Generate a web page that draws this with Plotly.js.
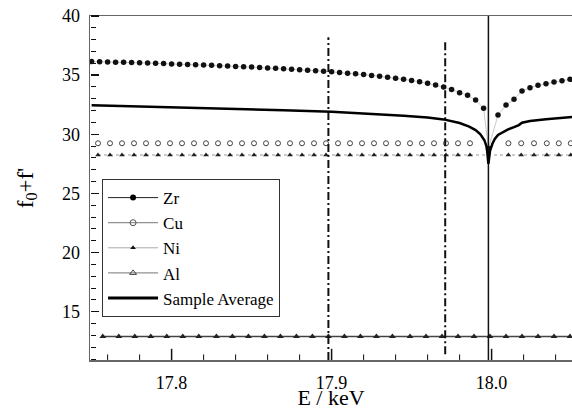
<!DOCTYPE html>
<html><head><meta charset="utf-8">
<script src="https://cdn.plot.ly/plotly-3.0.1.min.js"></script>
<style>html,body{margin:0;padding:0;background:#fff}</style>
</head><body><div id="chart" style="width:572px;height:410px"></div>
<script>
// ---- data (energies in keV, values of f0+f') ----
const zrX = [17.750,17.755,17.760,17.765,17.770,17.775,17.780,17.785,17.790,17.795,
             17.800,17.805,17.810,17.815,17.820,17.825,17.830,17.835,17.840,17.845,
             17.850,17.855,17.860,17.865,17.870,17.875,17.880,17.885,17.890,17.895,
             17.900,17.905,17.910,17.915,17.920,17.925,17.930,17.935,17.940,17.945,
             17.950,17.955,17.960,17.965,17.970,17.975,17.980,17.985,17.990,17.995,
             17.998,18.004,18.009,18.014,18.019,18.024,18.029,18.034,18.039,18.044,18.049];
const zrY = [36.15,36.14,36.12,36.10,36.08,36.06,36.04,36.02,36.00,35.98,
             35.95,35.93,35.91,35.88,35.86,35.83,35.80,35.77,35.74,35.71,
             35.68,35.65,35.61,35.58,35.54,35.50,35.46,35.42,35.38,35.33,
             35.28,35.23,35.17,35.11,35.05,34.98,34.91,34.83,34.74,34.65,
             34.55,34.44,34.31,34.16,33.99,33.78,33.52,33.30,32.90,32.20,
             28.80,31.63,32.48,32.96,33.66,33.94,34.14,34.28,34.42,34.53,34.65];

const cuniX = [17.754,17.7615,17.769,17.7765,17.784,17.7915,17.799,17.8065,17.814,17.8215,
               17.829,17.8365,17.844,17.8515,17.859,17.8665,17.874,17.8815,17.889,17.8965,
               17.904,17.9115,17.919,17.9265,17.934,17.9415,17.949,17.9565,17.964,17.9715,
               17.979,17.9865,18.0105,18.0185,18.0265,18.0345,18.042,18.0495];
const cuY = [29.24,29.24,29.24,29.24,29.24,29.24,29.24,29.24,29.24,29.24,
             29.24,29.24,29.24,29.24,29.24,29.24,29.24,29.24,29.24,29.24,
             29.24,29.24,29.24,29.24,29.24,29.24,29.24,29.24,29.24,29.24,
             29.24,29.24,29.24,29.24,29.24,29.24,29.24,29.24];
const niY = [28.25,28.25,28.25,28.25,28.25,28.25,28.25,28.25,28.25,28.25,
             28.25,28.25,28.25,28.25,28.25,28.25,28.25,28.25,28.25,28.25,
             28.25,28.25,28.25,28.25,28.25,28.25,28.25,28.25,28.25,28.25,
             28.25,28.25,28.25,28.25,28.25,28.25,28.25,28.25];

const alX = [17.757,17.767,17.777,17.787,17.797,17.807,17.817,17.828,17.838,17.848,
             17.858,17.868,17.878,17.888,17.898,17.908,17.918,17.928,17.938,17.949,
             17.959,17.969,17.979,17.989,17.999,18.009,18.019,18.029,18.039,18.049];
const alY = [12.9,12.9,12.9,12.9,12.9,12.9,12.9,12.9,12.9,12.9,
             12.9,12.9,12.9,12.9,12.9,12.9,12.9,12.9,12.9,12.9,
             12.9,12.9,12.9,12.9,12.9,12.9,12.9,12.9,12.9,12.9];

const avgX = [17.750,17.780,17.810,17.840,17.870,17.900,17.925,17.945,17.960,17.970,
              17.980,17.986,17.990,17.993,17.9955,17.997,17.998,17.999,18.0005,18.002,
              18.004,18.007,18.010,18.014,18.017,18.019,18.024,18.034,18.044,18.055];
const avgY = [32.45,32.36,32.26,32.15,32.03,31.90,31.74,31.57,31.41,31.26,
              30.95,30.65,30.35,30.00,29.50,28.90,27.50,28.60,29.20,29.60,
              29.95,30.20,30.40,30.60,30.78,30.98,31.13,31.28,31.42,31.52];

// vertical marker lines
const edgeX = [17.998,17.998], edgeY = [10.92,40];
const mark1X = [17.898,17.898], mark1Y = [10.92,38.2];
const mark2X = [17.971,17.971], mark2Y = [11.4,38.0];

const names = ['Zr','Cu','Ni','Al','Sample Average'];

// x-axis tick positions (major / minor)
const xMajorTicks = [17.8,17.9,18.0];
const xMinorTicks = [17.76,17.78,17.82,17.84,17.86,17.88,17.92,17.94,17.96,17.98,18.02,18.04];

const xRange = [17.749,18.05025], yRange = [10.92,40];
const serif = 'Liberation Serif, Times New Roman, serif';
const traces = [
  {x:alX, y:alY, mode:'lines+markers', line:{color:'#444',width:1.5},
   marker:{symbol:'triangle-up',size:6,color:'#222'}, showlegend:false},
  {x:cuniX, y:niY, mode:'lines+markers', line:{color:'#999',width:1,dash:'dot'},
   marker:{symbol:'triangle-up',size:5,color:'#222'}, showlegend:false},
  {x:cuniX, y:cuY, mode:'markers',
   marker:{symbol:'circle-open',size:5,color:'#444',line:{width:1}}, showlegend:false},
  {x:zrX, y:zrY, mode:'lines+markers', line:{color:'#bbb',width:0.8},
   marker:{symbol:'circle',size:5.5,color:'#111'}, showlegend:false},
  {x:mark1X, y:mark1Y, mode:'lines', line:{color:'#111',width:2,dash:'8px,3px,2px,3px'}, showlegend:false},
  {x:mark2X, y:mark2Y, mode:'lines', line:{color:'#111',width:2,dash:'8px,3px,2px,3px'}, showlegend:false},
  {x:edgeX, y:edgeY, mode:'lines', line:{color:'#111',width:1.5}, showlegend:false},
  {x:avgX, y:avgY, mode:'lines', line:{color:'#000',width:2.5}, showlegend:false},
  // inward x-axis tick marks (half of each marker is clipped by the plot area)
  {x:xMajorTicks, y:xMajorTicks.map(() => yRange[0]), mode:'markers', cliponaxis:true,
   marker:{symbol:'line-ns-open',size:16,color:'#111',line:{color:'#111',width:1.5}},
   showlegend:false, hoverinfo:'skip'},
  {x:xMinorTicks, y:xMinorTicks.map(() => yRange[0]), mode:'markers', cliponaxis:true,
   marker:{symbol:'line-ns-open',size:8,color:'#111',line:{color:'#111',width:1}},
   showlegend:false, hoverinfo:'skip'},
  // empty trace that carries the tick-only y overlay axis
  {x:[null], y:[null], xaxis:'x', yaxis:'y2', mode:'lines', showlegend:false, hoverinfo:'skip'},
  // legend entries
  {x:[null], y:[null], name:names[0], mode:'lines+markers', line:{color:'#222',width:1},
   marker:{symbol:'circle',size:6,color:'#000'}},
  {x:[null], y:[null], name:names[1], mode:'lines+markers', line:{color:'#777',width:1},
   marker:{symbol:'circle-open',size:6,color:'#555',line:{width:1}}},
  {x:[null], y:[null], name:names[2], mode:'lines+markers', line:{color:'#aaa',width:1},
   marker:{symbol:'triangle-up',size:5,color:'#111'}},
  {x:[null], y:[null], name:names[3], mode:'lines+markers', line:{color:'#777',width:1},
   marker:{symbol:'triangle-up-open',size:6,color:'#444',line:{width:1}}},
  {x:[null], y:[null], name:names[4], mode:'lines', line:{color:'#000',width:3}}
];

const layout = {
  width:572, height:410,
  margin:{l:90, r:0, t:16, b:50},
  paper_bgcolor:'#fff', plot_bgcolor:'#fff',
  font:{family:serif, color:'#000', size:18},
  showlegend:true,
  legend:{x:0.025, y:0.526, xanchor:'left', yanchor:'top', bgcolor:'#fff',
          bordercolor:'#333', borderwidth:1, font:{family:serif,size:17,color:'#000'},
          tracegroupgap:0, itemwidth:50},
  xaxis:{range:xRange, tickmode:'array', tickvals:xMajorTicks, tickformat:'.1f',
         ticks:'outside', ticklen:6, tickcolor:'rgba(0,0,0,0)',
         showline:true, linecolor:'#666', linewidth:1.5, mirror:true,
         showgrid:false, zeroline:false, tickfont:{family:serif,size:18},
         title:{text:'E / keV', font:{family:serif,size:22}, standoff:8}},
  yaxis:{range:yRange, tickmode:'linear', tick0:15, dtick:5,
         ticks:'outside', ticklen:5, tickcolor:'rgba(0,0,0,0)',
         showline:true, linecolor:'#666', linewidth:1.5, mirror:false,
         showgrid:false, zeroline:false, tickfont:{family:serif,size:18},
         title:{text:"f<sub>0</sub>+f'", font:{family:serif,size:23}, standoff:22}},
  // tick-only axis on the left edge so that "outside" ticks point into the plot
  yaxis2:{overlaying:'y', side:'right', anchor:'free', position:0, range:yRange,
          tickmode:'linear', tick0:15, dtick:5, ticks:'outside', ticklen:8, tickwidth:1.5,
          tickcolor:'#111', showticklabels:false, showline:false, showgrid:false, zeroline:false,
          minor:{dtick:1, tick0:10, ticks:'outside', ticklen:5, tickwidth:1, tickcolor:'#111', showgrid:false}}
};
Plotly.newPlot('chart', traces, layout, {displayModeBar:false, staticPlot:true});
</script>
</body></html>
